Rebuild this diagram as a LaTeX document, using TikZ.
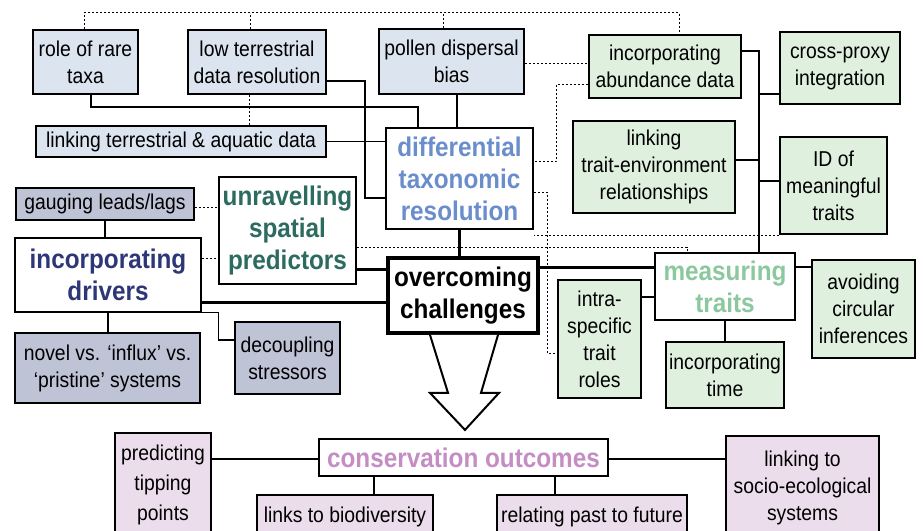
\documentclass[tikz,border=0pt]{standalone}
\usepackage{fontspec}
\setmainfont{Liberation Sans}[FakeStretch=0.9]
\definecolor{rockfill}{HTML}{DCE4F0}
\definecolor{driverfill}{HTML}{BFC3D6}
\definecolor{traitfill}{HTML}{DFF0DF}
\definecolor{outfill}{HTML}{ECDDEC}
\definecolor{diffblue}{HTML}{6A8DCB}
\definecolor{spatialteal}{HTML}{2C6B60}
\definecolor{drivernavy}{HTML}{2D3777}
\definecolor{traitgreen}{HTML}{8CC89E}
\definecolor{outpink}{HTML}{C48DC4}
\tikzset{
  box/.style = {draw, line width=2.2pt, align=center, inner sep=2pt,
    font=\fontsize{21.5}{27}\selectfont},
  rockbox/.style = {box, fill=rockfill},
  driverbox/.style = {box, fill=driverfill},
  traitbox/.style = {box, fill=traitfill},
  outbox/.style = {box, fill=outfill},
  headbox/.style = {box, fill=white, font=\fontsize{27}{32}\selectfont\bfseries},
  sized/.style 2 args = {minimum width=#1pt, minimum height=#2pt},
  link/.style = {line width=1.2pt},
  thicklink/.style = {line width=3pt},
  dotlink/.style = {line width=1pt, dash pattern=on 2pt off 2pt}
}

\begin{document}
\begin{tikzpicture}[x=1pt,y=-1pt]
  \useasboundingbox (0,0) rectangle (923,530);

  % pollen side
  \node[rockbox, sized={105}{64}] (rare) at (85.5,62) {role of rare\\taxa};
  \node[rockbox, sized={138}{64}] (lowres) at (257,62) {low terrestrial\\data resolution};
  \node[rockbox, sized={145}{65}] (pollen) at (451.5,61.5) {pollen dispersal\\bias};
  \node[rockbox, sized={290}{31}] (terraq) at (181,141.5) {linking terrestrial \& aquatic data};
  \node[headbox, text=diffblue, sized={147}{101}] (diff) at (459.5,178.5) {differential\\taxonomic\\resolution};

  % drivers side
  \node[headbox, text=spatialteal, sized={137}{107}] (unrav) at (287.5,230.5) {unravelling\\spatial\\predictors};
  \node[driverbox, sized={178}{32}] (gauging) at (105,204) {gauging leads/lags};
  \node[headbox, text=drivernavy, sized={186}{74}] (drivers) at (108,275) {incorporating\\drivers};
  \node[driverbox, sized={185}{70}] (novel) at (107.5,368) {novel vs. ‘influx’ vs.\\‘pristine’ systems};
  \node[driverbox, sized={105}{72}] (decoup) at (287.5,358) {decoupling\\stressors};
  \node[headbox, line width=3.8pt, sized={150}{75}] (overcome) at (463,295.5) {overcoming\\challenges};

  % traits side
  \node[traitbox, sized={152}{63}] (abund) at (665,66.5) {incorporating\\abundance data};
  \node[traitbox, sized={120}{72}] (proxy) at (840,68) {cross-proxy\\integration};
  \node[traitbox, sized={162}{92}] (traitenv) at (654,167) {linking\\trait-environment\\relationships};
  \node[traitbox, sized={107}{97}] (idtraits) at (833.5,185.5) {ID of\\meaningful\\traits};
  \node[headbox, text=traitgreen, sized={140}{67}] (measure) at (725,286.5) {measuring\\traits};
  \node[traitbox, sized={83}{118}] (intra) at (599.5,339) {intra-\\specific\\trait\\roles};
  \node[traitbox, sized={118}{66}] (inctime) at (725,375) {incorporating\\time};
  \node[traitbox, sized={103}{98}] (avoid) at (863.5,309) {avoiding\\circular\\inferences};

  % outcomes
  \node[headbox, text=outpink, sized={289}{37}, inner sep=0pt] (conserv) at (463.5,457.5) {conservation outcomes};
  \node[outbox, sized={96}{104}, font=\fontsize{21.5}{30}\selectfont] (tipping) at (163,485) {predicting\\tipping\\points};
  \node[outbox, sized={176}{44}] (links) at (345,517) {links to biodiversity};
  \node[outbox, sized={190}{44}] (relating) at (592,517) {relating past to future};
  \node[outbox, sized={153}{104}] (socio) at (802.5,488) {linking to\\socio-ecological\\systems};

  % solid links
  \draw[link] ([xshift=5.5pt]rare.south) |- ([xshift=-41.5pt,yshift=20pt]diff.north) -- ([xshift=-41.5pt]diff.north);
  \draw[link] ([yshift=-19pt]lowres.east) -| ([xshift=-20pt,yshift=-19.5pt]diff.west) -- ([yshift=-19.5pt]diff.west);
  \draw[link] (terraq.east) -- (terraq.east -| diff.west);
  \draw[link] ([xshift=5.5pt]pollen.south) -- ([xshift=5.5pt]pollen.south |- diff.north);
  \draw[thicklink] (diff.south) -- (diff.south |- overcome.north);
  \draw[link] (gauging.south) -- (gauging.south |- drivers.north);
  \draw[link] (drivers.south) -- (drivers.south |- novel.north);
  \draw[link] ([yshift=1pt]drivers.south east) -- ++(16,0) |- ([yshift=18pt]decoup.west);
  \draw[thicklink] ([yshift=-27pt]drivers.east) -- ([yshift=-27pt]drivers.east -| overcome.west);
  \draw[thicklink] ([yshift=-38.5pt]unrav.east) -- ([yshift=-38.5pt]unrav.east -| overcome.west);
  \draw[thicklink] ([yshift=28.5pt]overcome.east) -- ([yshift=28.5pt]overcome.east -| measure.west);
  \draw[link] ([yshift=-10.5pt]measure.west) -- ([yshift=-10.5pt]measure.west -| intra.east);
  \draw[link] (measure.south) -- (measure.south |- inctime.north);
  \draw[link] ([yshift=19.5pt]measure.east) -- ([yshift=19.5pt]measure.east -| avoid.west);
  \draw[link] ([yshift=15.5pt]abund.east) -| ([xshift=34pt]measure.north);
  \draw[link] ([yshift=-26pt]proxy.west) -- ++(-21,0);
  \draw[link] ([yshift=7pt]traitenv.east) -- ++(24,0);
  \draw[link] ([yshift=4.5pt]idtraits.west) -- ++(-21,0);
  \draw[link] ([yshift=-1.5pt]conserv.west) -- ([yshift=-1.5pt]conserv.west -| tipping.east);
  \draw[link] ([yshift=-1.5pt]conserv.east) -- ([yshift=-1.5pt]conserv.east -| socio.west);
  \draw[link] ([xshift=-89.5pt]conserv.south) -- ([xshift=-89.5pt]conserv.south |- links.north);
  \draw[link] ([xshift=91.5pt]conserv.south) -- ([xshift=91.5pt]conserv.south |- relating.north);

  % dotted links
  \draw[dotlink] ([xshift=-1.5pt]rare.north) |- ([xshift=14pt,yshift=21pt]abund.north) -- ([xshift=14pt]abund.north);
  \draw[dotlink] ([xshift=-7pt]lowres.north) -- ++(0,-16);
  \draw[dotlink] ([xshift=-8.5pt]pollen.north) -- ++(0,-15);
  \draw[dotlink] ([xshift=-8pt]lowres.south) -- ([xshift=-8pt]lowres.south |- terraq.north);
  \draw[dotlink] ([yshift=-1.5pt]pollen.east) -- ([yshift=-1.5pt]pollen.east -| abund.west);
  \draw[dotlink] ([yshift=-17.5pt]abund.west) -- ++(-31,0) |- ([yshift=17.5pt]diff.east);
  \draw[dotlink] ([yshift=-13.5pt]diff.east) -- ++(13,0) |- ([yshift=-14pt]intra.west);
  \draw[dotlink] (idtraits.south west) -- (idtraits.south west -| diff.east);
  \draw[dotlink] ([yshift=-16.5pt]unrav.east) -| ([xshift=-38pt]measure.north);
  \draw[dotlink] ([yshift=-3pt]gauging.east) -- ([yshift=-3pt]gauging.east -| unrav.west);
  \draw[dotlink] ([yshift=17pt]drivers.east) -- ([yshift=17pt]drivers.east -| unrav.west);

  % hollow arrow to outcomes
  \draw[line width=2pt, fill=white, line join=miter] ([xshift=1pt]overcome.south) ++(-34,0)
    -- ++(18,58) -- ++(-18,0) -- ++(35,37) -- ++(34,-37) -- ++(-18,0) -- ++(17,-58);
\end{tikzpicture}
\end{document}
